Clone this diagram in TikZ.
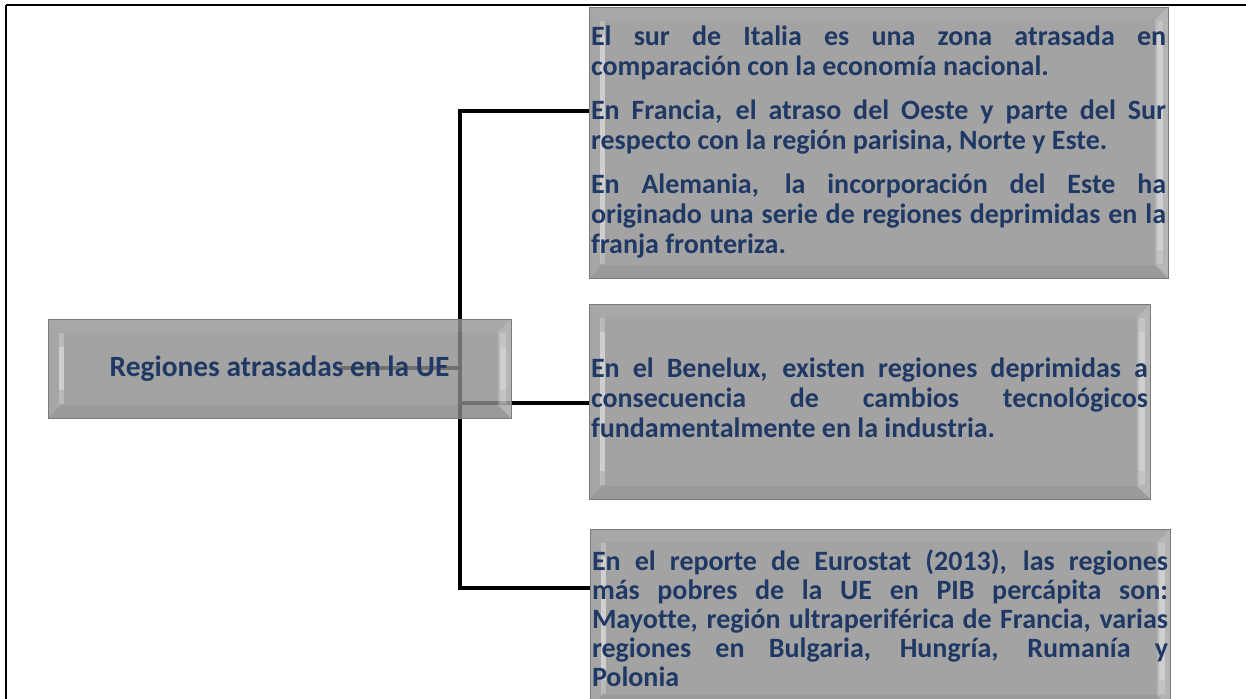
\documentclass[tikz,border=0pt]{standalone}
\usepackage{fontspec}
\setmainfont{Carlito}[Ligatures=NoCommon]
\usetikzlibrary{backgrounds}
\definecolor{boxfill}{HTML}{8C8C8C}
\definecolor{boxline}{HTML}{7A7A7A}
\definecolor{txtblue}{HTML}{1F3864}
\tikzset{
  bevelpic/.style={path picture={
    \coordinate (pa) at (path picture bounding box.north west);
    \coordinate (pb) at (path picture bounding box.south east);
    \fill[white, fill opacity=0.06] (pa) -- (pa -| pb) -- ([shift={(-13pt,-13pt)}]pa -| pb) -- ([shift={(13pt,-13pt)}]pa) -- cycle;
    \fill[black, fill opacity=0.05] (pb) -- (pb -| pa) -- ([shift={(13pt,13pt)}]pb -| pa) -- ([shift={(-13pt,13pt)}]pb) -- cycle;
    \fill[white, fill opacity=0.20] (pa -| pb) -- (pb) -- ([shift={(-13pt,13pt)}]pb) -- ([shift={(-13pt,-13pt)}]pa -| pb) -- cycle;
    \fill[white, fill opacity=0.04] (pa) -- (pb -| pa) -- ([shift={(13pt,13pt)}]pb -| pa) -- ([shift={(13pt,-13pt)}]pa) -- cycle;
    \fill[white, fill opacity=0.25] ([shift={(11pt,-14pt)}]pa) rectangle ([shift={(16pt,14pt)}]pb -| pa);
    \fill[white, fill opacity=0.30] ([shift={(11pt,-28pt)}]pa) rectangle ([shift={(16pt,28pt)}]pb -| pa);
    \fill[white, fill opacity=0.20] ([shift={(-11pt,-14pt)}]pa -| pb) rectangle ([shift={(-5pt,14pt)}]pb);
    \fill[white, fill opacity=0.20] ([shift={(-11pt,-28pt)}]pa -| pb) rectangle ([shift={(-5pt,28pt)}]pb);
  }},
  box/.style={rectangle, draw=boxline, line width=0.8pt, fill=boxfill, fill opacity=0.80,
    text opacity=1, inner xsep=2pt, inner ysep=0pt, bevelpic, text=txtblue,
    font=\fontsize{28}{30}\selectfont\bfseries},
  conn/.style={draw=black, line width=3.2pt},
  frame/.style={draw=black, line width=2.6pt}
}
\begin{document}
\begin{tikzpicture}[x=1pt, y=-1pt]
\useasboundingbox (0,0) rectangle (1246,698);
\clip (0,0) rectangle (1246,698);

\node[box, minimum width=463pt, minimum height=99pt, font=\fontsize{29.4}{31}\selectfont\bfseries] (L) at (279.5,368.5) {Regiones atrasadas en la UE};

\node[box, minimum width=579pt, text width=575pt, minimum height=271pt, align=justify] (T) at (878.5,142.5)
 {El sur de Italia es una zona atrasada en\linebreak comparación con la economía nacional.\par\vspace{14pt}%
  En Francia, el atraso del Oeste y parte del Sur\linebreak respecto con la región parisina, Norte y Este.\par\vspace{14pt}%
  En Alemania, la incorporación del Este ha\linebreak originado una serie de regiones deprimidas en la\linebreak franja fronteriza.};

\node[box, minimum width=561pt, text width=557pt, minimum height=195pt, align=justify] (M) at (869.5,401.5)
 {En el Benelux, existen regiones deprimidas a\linebreak consecuencia de cambios tecnológicos\linebreak fundamentalmente en la industria.\par\vspace{8pt}};

\node[box, minimum width=580pt, text width=576pt, minimum height=179pt, align=justify,
  font=\fontsize{28}{29}\selectfont\bfseries] (B) at (880,618.5)
 {En el reporte de Eurostat (2013), las regiones\linebreak más pobres de la UE en PIB percápita son:\linebreak Mayotte, región ultraperiférica de Francia, varias\linebreak regiones en Bulgaria, Hungría, Rumanía y\linebreak Polonia};

\coordinate (ls) at (340,368);
\coordinate (hub) at (460,368);
\coordinate (jt) at (460,111);
\coordinate (jm) at (460,403);
\coordinate (jb) at (460,588);

\begin{scope}[on background layer]
  \draw[frame] (6,5) -- (1300,5);
  \draw[frame] (6,5) -- (6,760);
  \draw[conn] (ls) -- (hub);
  \draw[conn, line cap=rect] (jt) -- (jb);
  \draw[conn] (jt) -- (jt -| T.west);
  \draw[conn] (jm) -- (jm -| M.west);
  \draw[conn] (jb) -- (jb -| B.west);
\end{scope}
\end{tikzpicture}
\end{document}
